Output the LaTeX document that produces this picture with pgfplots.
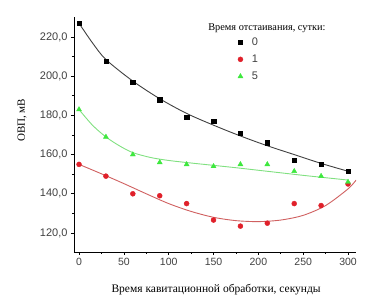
\documentclass[border=0pt]{standalone}
\usepackage{fontspec}
\setmainfont{Liberation Serif}
\setsansfont{Liberation Sans}
\usepackage{pgfplots}
\pgfplotsset{compat=1.18}
\definecolor{mred}{HTML}{E0202A}
\definecolor{mgreen}{HTML}{3EE83E}
\definecolor{lred}{HTML}{D06060}
\definecolor{lgreen}{HTML}{80E080}
\definecolor{lblack}{HTML}{404040}
\begin{document}
\begin{tikzpicture}[x=1pt,y=1pt]
\begin{axis}[
  at={(74pt,55pt)}, anchor=south west,
  scale only axis, width=282pt, height=235pt,
  xmin=-5.6, xmax=308.9, ymin=110.3, ymax=230.2,
  axis x line=bottom, axis y line=left,
  axis line style={-, line width=0.8pt},
  tick align=outside, major tick length=3pt, minor tick length=2pt,
  tick style={black, line width=0.6pt},
  xtick={0,50,...,300}, ytick={120,140,...,220},
  minor x tick num=1, minor y tick num=1,
  /pgf/number format/assume math mode=true,
  xticklabel style={font=\sffamily\fontsize{10.5}{12}\selectfont, text=black!75},
  yticklabel style={font=\sffamily\fontsize{11}{12}\selectfont, text=black!75,
     /pgf/number format/.cd, fixed, fixed zerofill, precision=1, use comma},
  xlabel={Время кавитационной обработки, секунды},
  ylabel={ОВП, мВ},
  xlabel style={font=\rmfamily\fontsize{11.5}{12}\selectfont, at={(axis description cs:0.504,-0.162)}, anchor=center},
  ylabel style={font=\rmfamily\fontsize{11}{12}\selectfont, at={(axis description cs:-0.184,0.56)}, anchor=center, rotate=0},
  legend style={draw=none, fill=none, at={(axis description cs:0.57,0.93)}, anchor=north west,
     font=\sffamily\fontsize{11}{12}\selectfont, text=black!75, row sep=4pt},
  legend cell align=left,
]
% fitted curves
\addplot[lblack, line width=0.9pt, forget plot, smooth] coordinates {
(0,227) (15,217) (30,208.5) (60,197.5) (90,188.5) (120,181) (150,175) (180,169.5) (210,164.5) (240,160) (270,155.5) (300,151.5)};
\addplot[lgreen, line width=0.9pt, forget plot, smooth] coordinates {
(0,183) (15,175) (30,169) (45,164.5) (60,161) (80,158.5) (100,157) (125,155.7) (150,154.5) (175,153.3) (200,152) (225,150.7) (250,149.4) (275,148.2) (300,147)};
\addplot[lred, line width=0.9pt, forget plot, smooth] coordinates {
(0,155) (25,150.2) (50,145.2) (75,140) (100,135) (125,131) (150,128) (175,126.3) (200,125.8) (225,126.6) (250,129) (275,134) (300,142.5) (309,147)};
% data
\addplot[only marks, mark=square*, mark size=2.2pt, black] coordinates {
(0,227) (30,207.5) (60,197) (90,188) (120,179) (150,177) (180,171) (210,166) (240,157) (270,155) (300,151.5)};
\addlegendentry{\hspace{7pt}0}
\addplot[only marks, mark=*, mark size=2.5pt, mred] coordinates {
(0,155) (30,149) (60,140) (90,139) (120,135) (150,126.6) (180,123.5) (210,125) (240,135) (270,134) (300,145)};
\addlegendentry{\hspace{7pt}1}
\addplot[only marks, mark=triangle*, mark size=2.9pt, mgreen] coordinates {
(0,183) (30,169) (60,160) (90,156) (120,155) (150,154) (180,155) (210,155) (240,151.5) (270,149) (300,146)};
\addlegendentry{\hspace{7pt}5}
\node[font=\rmfamily\fontsize{10.3}{12}\selectfont, anchor=center] at (axis description cs:0.684,0.953) {Время отстаивания, сутки:};
\end{axis}
\pgfresetboundingbox
\path[use as bounding box] (0,0) rectangle (376,307);
\end{tikzpicture}
\end{document}
